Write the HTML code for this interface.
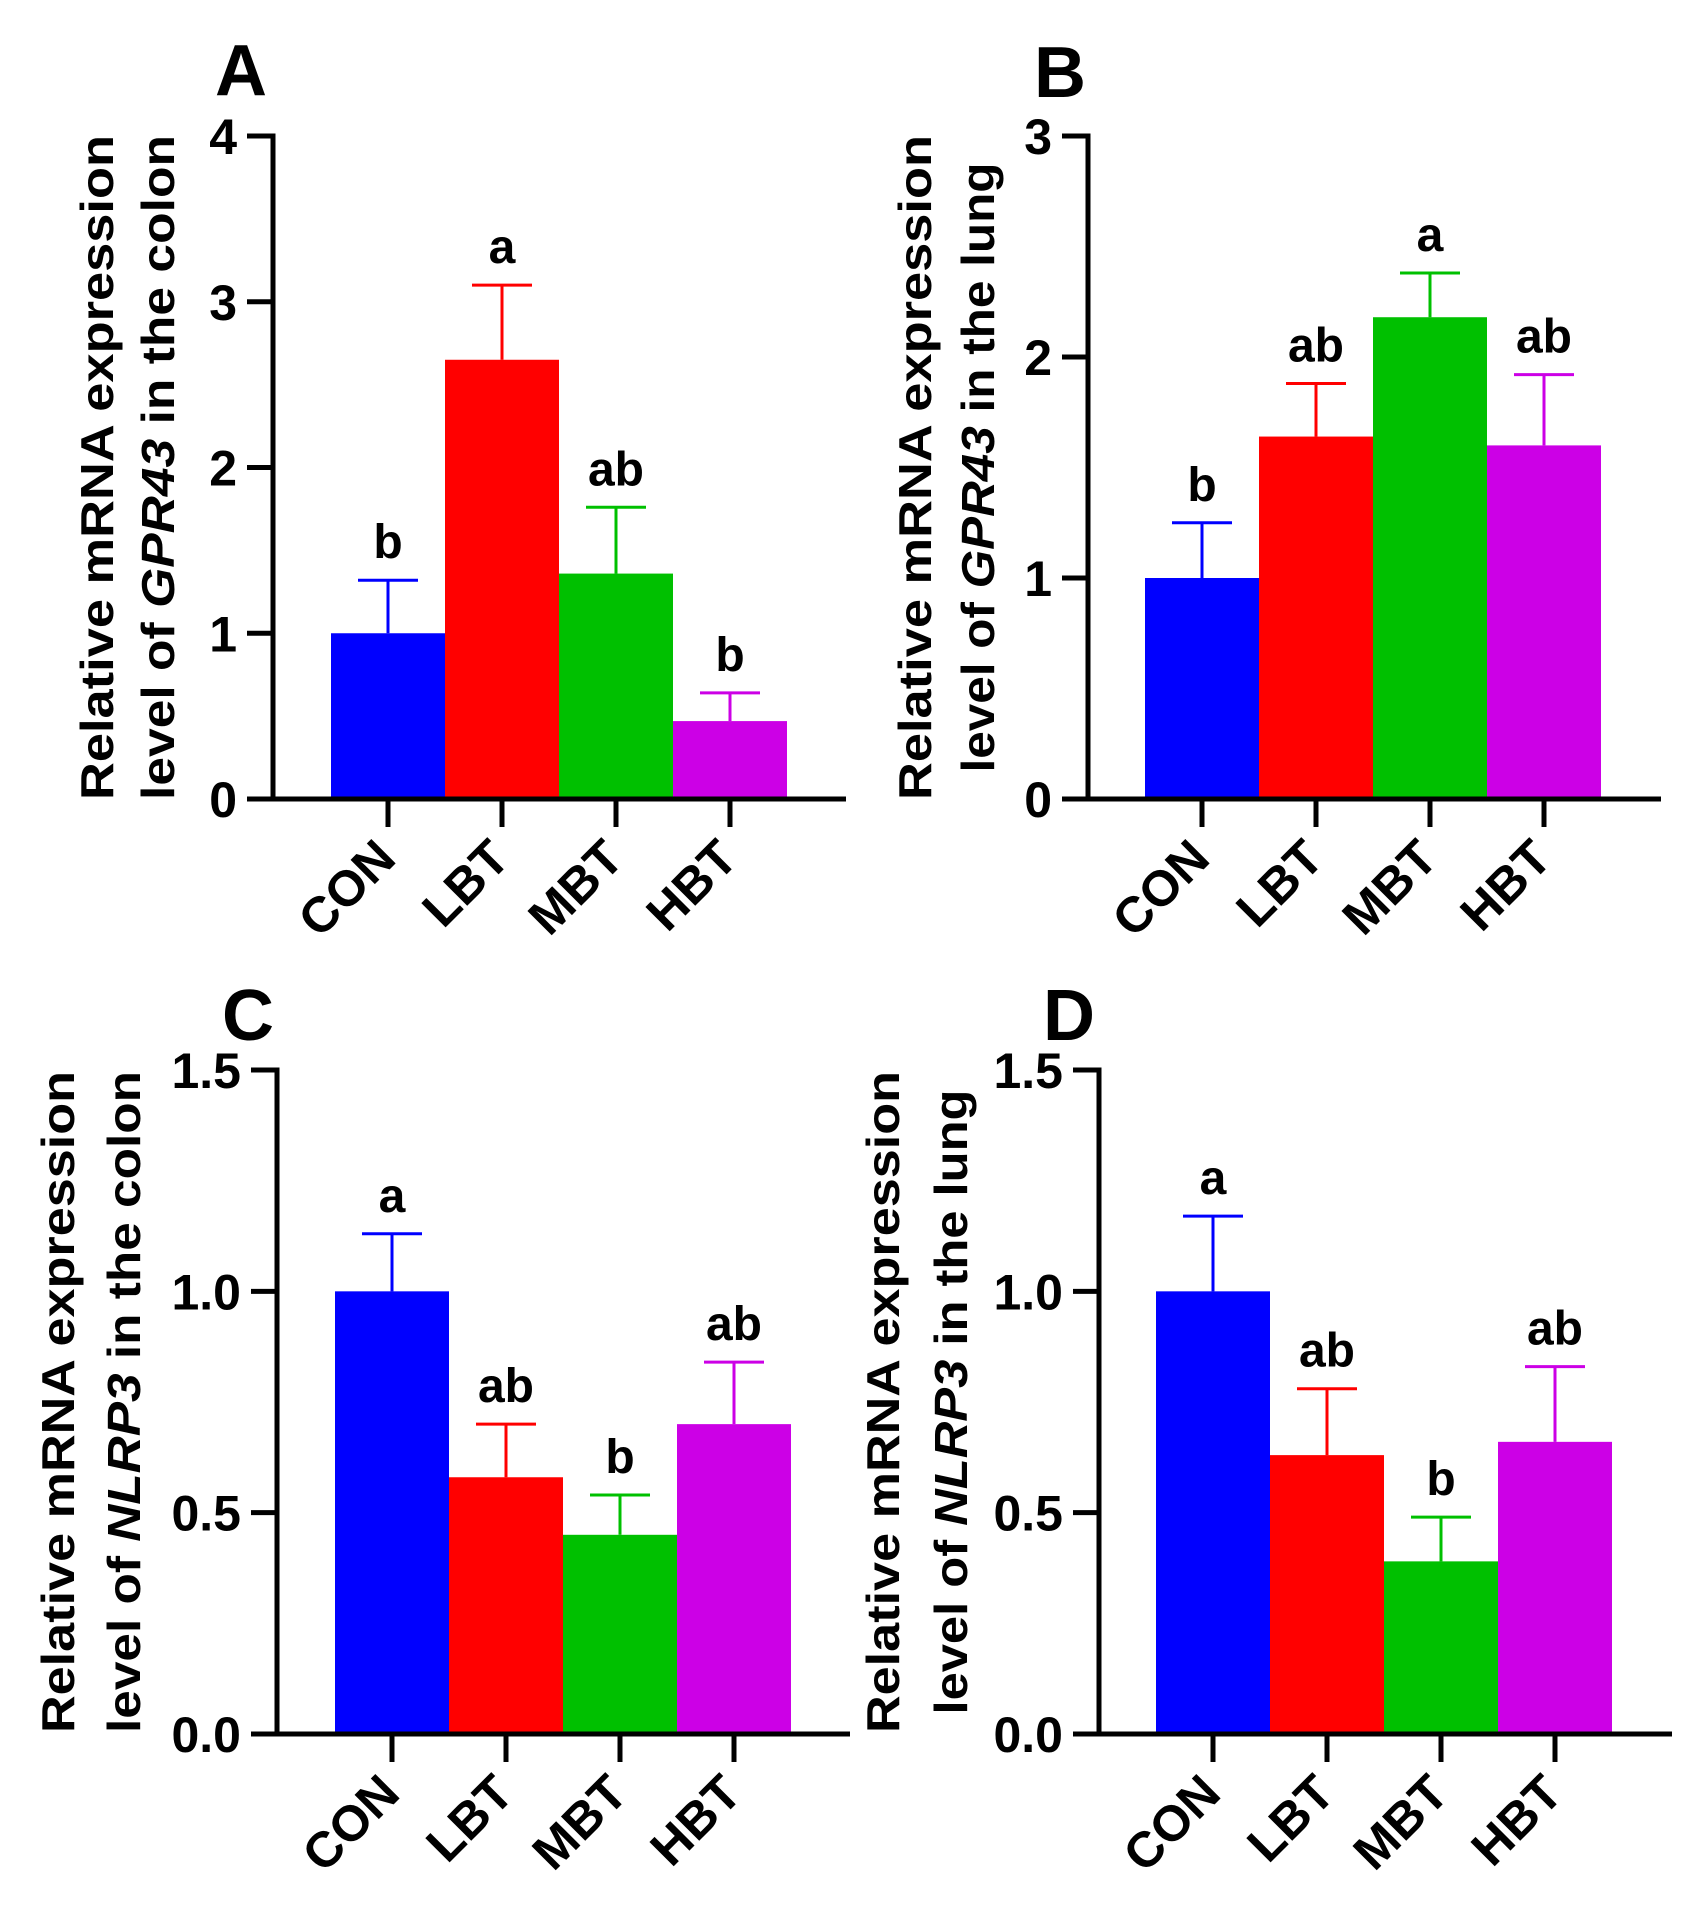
<!DOCTYPE html>
<html><head><meta charset="utf-8"><style>
html,body{margin:0;padding:0;background:#fff;}
svg{display:block;font-family:"Liberation Sans",Arial,sans-serif;font-weight:bold;}
</style></head><body>
<svg id="fig" width="1700" height="1910" viewBox="0 0 1700 1910"></svg>
<script>
const categories = ["CON","LBT","MBT","HBT"];
const colors = ["#0000ff","#ff0000","#00c000","#cc00e6"];
const valuesA = [1.0, 2.65, 1.36, 0.47];
const errorsA = [1.32, 3.10, 1.76, 0.64];
const lettersA = ["b","a","ab","b"];
const ticksA = [0,1,2,3,4];
const tickLabelsA = ["0","1","2","3","4"];
const valuesB = [1.0, 1.64, 2.18, 1.60];
const errorsB = [1.25, 1.88, 2.38, 1.92];
const lettersB = ["b","ab","a","ab"];
const ticksB = [0,1,2,3];
const tickLabelsB = ["0","1","2","3"];
const valuesC = [1.0, 0.58, 0.45, 0.70];
const errorsC = [1.13, 0.70, 0.54, 0.84];
const lettersC = ["a","ab","b","ab"];
const ticksC = [0,0.5,1.0,1.5];
const tickLabelsC = ["0.0","0.5","1.0","1.5"];
const valuesD = [1.0, 0.63, 0.39, 0.66];
const errorsD = [1.17, 0.78, 0.49, 0.83];
const lettersD = ["a","ab","b","ab"];
const ticksD = [0,0.5,1.0,1.5];
const tickLabelsD = ["0.0","0.5","1.0","1.5"];

const NS="http://www.w3.org/2000/svg";
const svg=document.getElementById('fig');
function mk(tag,attrs,parent,text){const e=document.createElementNS(NS,tag);for(const k in attrs)e.setAttribute(k,attrs[k]);if(text!==undefined)e.textContent=text;(parent||svg).appendChild(e);return e;}

function panel(o){
  const g=mk('g',{});
  
  
  const ymax=o.ticks[o.ticks.length-1];
  const yS=v=>o.y0-(o.y0-o.yTop)*v/ymax;
  const xC=i=>o.c0+i*114;
  const pl=mk('text',{x:o.lx,y:o.ly,'font-size':72},g,o.id);
  
  
  o.values.forEach((v,i)=>{
    const r=mk('rect',{x:xC(i)-57,y:yS(v),width:114,height:o.y0-yS(v),fill:colors[i]},g);
    
    
    const eb=mk('path',{d:`M${xC(i)},${yS(v)}V${yS(o.errors[i])}M${xC(i)-30},${yS(o.errors[i])}H${xC(i)+30}`,stroke:colors[i],'stroke-width':3,fill:'none'},g);
    
    
    const lt=mk('text',{x:xC(i),y:yS(o.errors[i])-22,'font-size':48,'text-anchor':'middle'},g,o.letters[i]);
    
    
    const tk=mk('line',{x1:xC(i),x2:xC(i),y1:o.y0,y2:o.y0+28,stroke:'#000','stroke-width':5},g);
    
    
    const cx=xC(i)+10, cy=o.y0+62;
    const cl=mk('text',{x:cx,y:cy,'font-size':50,'text-anchor':'end',transform:`rotate(-45 ${cx} ${cy})`},g,categories[i]);
    
    
  });
  const ya=mk('line',{x1:o.ax,x2:o.ax,y1:o.yTop-2.5,y2:o.y0,stroke:'#000','stroke-width':5},g);
  
  
  const xa=mk('line',{x1:o.ax-26,x2:o.ax+573,y1:o.y0,y2:o.y0,stroke:'#000','stroke-width':5},g);
  
  
  o.ticks.forEach((t,j)=>{
    const tl=mk('line',{x1:o.ax-26,x2:o.ax,y1:yS(t),y2:yS(t),stroke:'#000','stroke-width':5},g);
    
    
    const tt=mk('text',{x:o.ax-36,y:yS(t)+18,'font-size':50,'text-anchor':'end'},g,o.tickLabels[j]);
    
    
  });
  const cy=(o.y0+o.yTop)/2;
  const t1=mk('text',{x:o.t1x+15,y:cy,'font-size':46,'text-anchor':'middle',textLength:o.len1,lengthAdjust:'spacingAndGlyphs',transform:`rotate(-90 ${o.t1x+15} ${cy})`},g,'Relative mRNA expression');
  
  
  const t2=mk('text',{x:o.t2x+15,y:cy,'font-size':46,'text-anchor':'middle',textLength:o.len2,lengthAdjust:'spacingAndGlyphs',transform:`rotate(-90 ${o.t2x+15} ${cy})`},g);
  
  
  mk('tspan',{},t2,'level of ');
  mk('tspan',{'font-style':'italic'},t2,o.gene);
  mk('tspan',{},t2,' in the '+o.tissue);
}
panel({id:'A',lx:215,ly:95,ax:273,yTop:136,y0:799,c0:388,values:valuesA,errors:errorsA,letters:lettersA,ticks:ticksA,tickLabels:tickLabelsA,t1x:98,t2x:159,len1:665,len2:665,gene:'GPR43',tissue:'colon'});
panel({id:'B',lx:1034,ly:97,ax:1088,yTop:136,y0:799,c0:1202,values:valuesB,errors:errorsB,letters:lettersB,ticks:ticksB,tickLabels:tickLabelsB,t1x:916,t2x:979,len1:665,len2:610,gene:'GPR43',tissue:'lung'});
panel({id:'C',lx:222,ly:1040,ax:277,yTop:1070,y0:1734,c0:392,values:valuesC,errors:errorsC,letters:lettersC,ticks:ticksC,tickLabels:tickLabelsC,t1x:59,t2x:125,len1:662,len2:662,gene:'NLRP3',tissue:'colon'});
panel({id:'D',lx:1043,ly:1040,ax:1099,yTop:1070,y0:1734,c0:1213,values:valuesD,errors:errorsD,letters:lettersD,ticks:ticksD,tickLabels:tickLabelsD,t1x:884,t2x:952,len1:662,len2:625,gene:'NLRP3',tissue:'lung'});
</script>
</body></html>
